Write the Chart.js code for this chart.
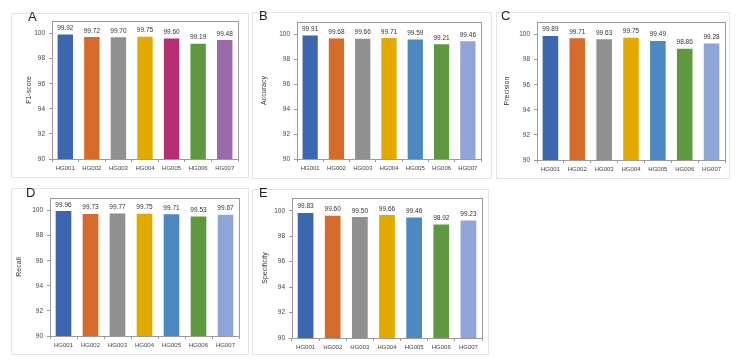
<!DOCTYPE html>
<html>
<head>
<meta charset="utf-8">
<script src="https://cdn.jsdelivr.net/npm/chart.js@4.4.1/dist/chart.umd.min.js"></script>
<style>
  body { margin: 0; background: #fff; width: 737px; height: 362px; position: relative; overflow: hidden; font-family: "Liberation Sans", Arial, sans-serif; }
  .box { position: absolute; border: 1px solid #e4e4e4; box-sizing: border-box; }
  .box canvas { position: absolute; left: -1px; top: -1px; }
  .letter { position: absolute; font-size: 13px; line-height: 13px; color: #222; }
</style>
</head>
<body>
<div id="panels"></div>
<script>
// data
var groups = ["HG001", "HG002", "HG003", "HG004", "HG005", "HG006", "HG007"];
var f1Score = [99.92, 99.72, 99.70, 99.75, 99.60, 99.19, 99.48];
var accuracy = [99.91, 99.68, 99.66, 99.71, 99.59, 99.21, 99.46];
var precision = [99.89, 99.71, 99.63, 99.75, 99.49, 98.86, 99.28];
var recall = [99.96, 99.73, 99.77, 99.75, 99.71, 99.53, 99.67];
var specificity = [99.83, 99.60, 99.50, 99.66, 99.46, 98.92, 99.23];
var yTicks = [90, 92, 94, 96, 98, 100];

var colorsA = ["#3d66b0", "#d46b2b", "#909090", "#e2aa00", "#b52f72", "#5f993f", "#9b69ac"];
var colorsB = ["#3d66b0", "#d46b2b", "#909090", "#e2aa00", "#4d88c2", "#5f993f", "#8fa5d7"];

// box = canvas rect, plot = plot area rect (absolute page px), tx = y title x inside box
var panels = [
  { letter: "A", lx: 28, ly: 10, title: "F1-score", values: f1Score, colors: colorsA,
    box: [11, 13, 238, 165], plot: [52, 21, 238, 159], tx: 21 },
  { letter: "B", lx: 259, ly: 9, title: "Accuracy", values: accuracy, colors: colorsB,
    box: [252, 12, 240, 167], plot: [297, 22, 481, 159], tx: 15 },
  { letter: "C", lx: 501, ly: 9, title: "Precision", values: precision, colors: colorsB,
    box: [496, 12, 234, 167], plot: [537, 22, 725, 160], tx: 14 },
  { letter: "D", lx: 26, ly: 186, title: "Recall", values: recall, colors: colorsB,
    box: [11, 188, 238, 167], plot: [50, 198, 239, 336], tx: 11 },
  { letter: "E", lx: 259, ly: 186, title: "Specificity", values: specificity, colors: colorsB,
    box: [252, 189, 237, 166], plot: [292, 198, 482, 338], tx: 16 }
];

var plotFrame = {
  id: "plotFrame",
  afterDraw: function (chart) {
    var a = chart.chartArea, ctx = chart.ctx;
    ctx.save();
    ctx.strokeStyle = "#9a9a9a";
    ctx.lineWidth = 1;
    ctx.strokeRect(Math.round(a.left) + 0.5, Math.round(a.top) + 0.5, Math.round(a.right - a.left), Math.round(a.bottom - a.top));
    ctx.restore();
  }
};

var barValues = {
  id: "barValues",
  afterDatasetsDraw: function (chart) {
    var ctx = chart.ctx;
    var vals = chart.data.datasets[0].data;
    ctx.save();
    ctx.font = "6.5px 'Liberation Sans', Arial, sans-serif";
    ctx.fillStyle = "#333";
    ctx.textAlign = "center";
    ctx.textBaseline = "bottom";
    chart.getDatasetMeta(0).data.forEach(function (bar, i) {
      ctx.fillText(vals[i].toFixed(2), bar.x, bar.y - 3);
    });
    ctx.restore();
  }
};

var holder = document.getElementById("panels");
var fam = "'Liberation Sans', Arial, sans-serif";

panels.forEach(function (p, n) {
  var div = document.createElement("div");
  div.className = "box";
  div.style.left = p.box[0] + "px";
  div.style.top = p.box[1] + "px";
  div.style.width = p.box[2] + "px";
  div.style.height = p.box[3] + "px";
  var cv = document.createElement("canvas");
  cv.id = "chart" + n;
  cv.width = p.box[2];
  cv.height = p.box[3];
  div.appendChild(cv);
  holder.appendChild(div);

  var lt = document.createElement("div");
  lt.className = "letter";
  lt.textContent = p.letter;
  lt.style.left = p.lx + "px";
  lt.style.top = p.ly + "px";
  document.body.appendChild(lt);

  var padLeft = p.tx - 7;
  var yWidth = p.plot[0] - p.box[0] - padLeft;
  var xHeight = p.box[1] + p.box[3] - p.plot[3];

  new Chart(cv, {
    type: "bar",
    data: {
      labels: groups,
      datasets: [{
        data: p.values,
        backgroundColor: p.colors,
        barPercentage: 0.58,
        categoryPercentage: 1
      }]
    },
    options: {
      responsive: false,
      animation: false,
      devicePixelRatio: 1,
      layout: {
        padding: { left: padLeft, top: p.plot[1] - p.box[1], right: p.box[0] + p.box[2] - p.plot[2], bottom: 0 }
      },
      plugins: { legend: { display: false }, tooltip: { enabled: false } },
      scales: {
        x: {
          grid: { drawOnChartArea: false, tickLength: 3, color: "#9a9a9a" },
          border: { color: "#9a9a9a" },
          ticks: { font: { size: 6, family: fam }, color: "#444", padding: 3, maxRotation: 0 },
          afterFit: function (s) { s.height = xHeight; }
        },
        y: {
          min: 90,
          max: 101,
          afterBuildTicks: function (s) { s.ticks = yTicks.map(function (v) { return { value: v }; }); },
          grid: { drawOnChartArea: false, tickLength: 3, color: "#9a9a9a" },
          border: { color: "#9a9a9a" },
          ticks: { font: { size: 6.5, family: fam }, color: "#444", padding: 4 },
          title: { display: true, text: p.title, font: { size: 7, family: fam }, color: "#333", padding: 0 },
          afterFit: function (s) { s.width = yWidth; }
        }
      }
    },
    plugins: [plotFrame, barValues]
  });
});
</script>
</body>
</html>
